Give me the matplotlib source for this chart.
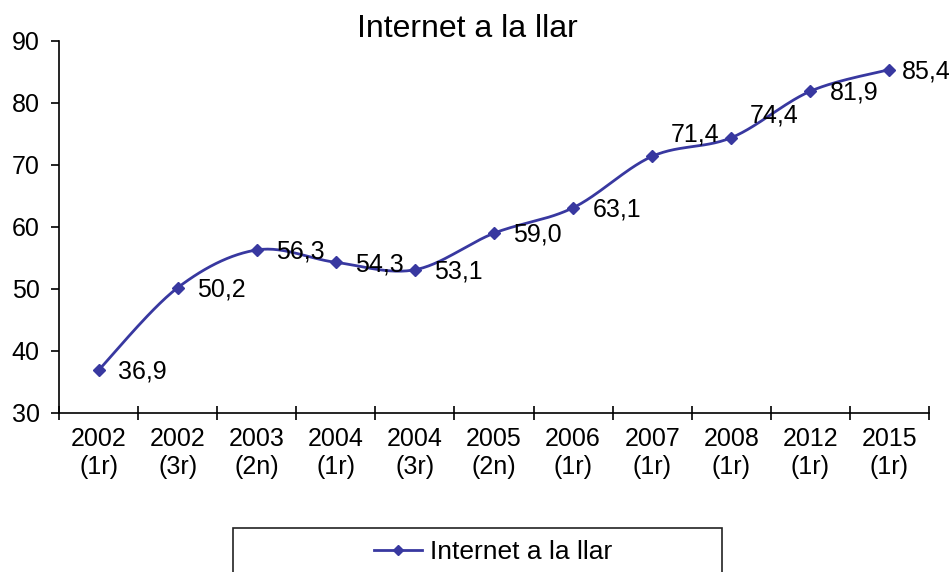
import numpy as np
import matplotlib.pyplot as plt
from matplotlib.lines import Line2D
from matplotlib.patches import Rectangle

years = ['2002', '2002', '2003', '2004', '2004', '2005', '2006', '2007', '2008', '2012', '2015']
waves = ['(1r)', '(3r)', '(2n)', '(1r)', '(3r)', '(2n)', '(1r)', '(1r)', '(1r)', '(1r)', '(1r)']
values = [36.9, 50.2, 56.3, 54.3, 53.1, 59.0, 63.1, 71.4, 74.4, 81.9, 85.4]
series_name = 'Internet a la llar'

color = '#3838a0'
plt.rcParams['font.family'] = ['Liberation Sans', 'DejaVu Sans']


def smooth(x, y, n=30):
    # Catmull-Rom style bezier, like the spreadsheet "smoothed line"
    x = np.asarray(x, float)
    y = np.asarray(y, float)
    px = np.concatenate([[x[0]], x, [x[-1]]])
    py = np.concatenate([[y[0]], y, [y[-1]]])
    xs, ys = [], []
    t = np.linspace(0, 1, n)
    for i in range(1, len(px) - 2):
        p0 = np.array([px[i], py[i]])
        p3 = np.array([px[i + 1], py[i + 1]])
        c1 = p0 + (p3 - np.array([px[i - 1], py[i - 1]])) / 6
        c2 = p3 - (np.array([px[i + 2], py[i + 2]]) - p0) / 6
        pts = ((1 - t) ** 3)[:, None] * p0 + (3 * (1 - t) ** 2 * t)[:, None] * c1 \
            + (3 * (1 - t) * t ** 2)[:, None] * c2 + (t ** 3)[:, None] * p3
        xs.extend(pts[:, 0])
        ys.extend(pts[:, 1])
    return xs, ys


W, H = 952, 572
fig = plt.figure(figsize=(W / 100, H / 100), dpi=100)
ax = fig.add_axes([59 / W, 1 - 413 / H, (929 - 59) / W, (413 - 41) / H])

x = np.arange(len(values))
sx, sy = smooth(x, values)
ax.plot(sx, sy, color=color, lw=2, solid_capstyle='round')
ax.plot(x, values, linestyle='none', marker='D', ms=6.3, color=color)

# label offsets in points (most sit to the right of the marker)
offsets = {7: (13.5, 16), 8: (13, 16), 10: (9, -1.2)}
for i, v in enumerate(values):
    dx, dy = offsets.get(i, (14, -1.2))
    ax.annotate(f'{v:.1f}'.replace('.', ','), (i, v), xytext=(dx, dy),
                textcoords='offset points', ha='left', va='center', fontsize=18)

ax.set_xlim(-0.5, len(values) - 0.5)
ax.set_ylim(30, 90)
ax.set_yticks(range(30, 91, 10))
ax.set_xticks(np.arange(len(values) + 1) - 0.5)
ax.set_xticklabels([])
ax.set_xticks(x, [f'{a}\n{b}' for a, b in zip(years, waves)], minor=True)
ax.tick_params(axis='x', which='major', direction='inout', length=10, width=1.2)
ax.tick_params(axis='x', which='minor', length=0, pad=10, labelsize=18)
ax.tick_params(axis='y', direction='out', length=6, width=1.2, labelsize=18, pad=8)
for lab in ax.get_xticklabels(minor=True):
    lab.set_linespacing(1.2)
ax.spines['top'].set_visible(False)
ax.spines['right'].set_visible(False)
ax.spines['left'].set_linewidth(1.2)
ax.spines['bottom'].set_linewidth(1.2)

fig.text(467 / W, 1 - 29 / H, series_name, ha='center', va='center', fontsize=23)

# legend box runs off the bottom edge of the image
fig.patches.append(Rectangle((233 / W, -0.1), (722 - 233) / W, 0.1 + (572 - 528) / H,
                             transform=fig.transFigure, fill=False, ec='#222222', lw=1.2))
handle = Line2D([], [], color=color, lw=2, marker='D', ms=5)
fig.legend([handle], [series_name], loc='center', bbox_to_anchor=(493 / W, 1 - 552 / H),
           frameon=False, fontsize=19, handlelength=1.8, handletextpad=0.3)

fig.savefig('out.png', dpi=100)
